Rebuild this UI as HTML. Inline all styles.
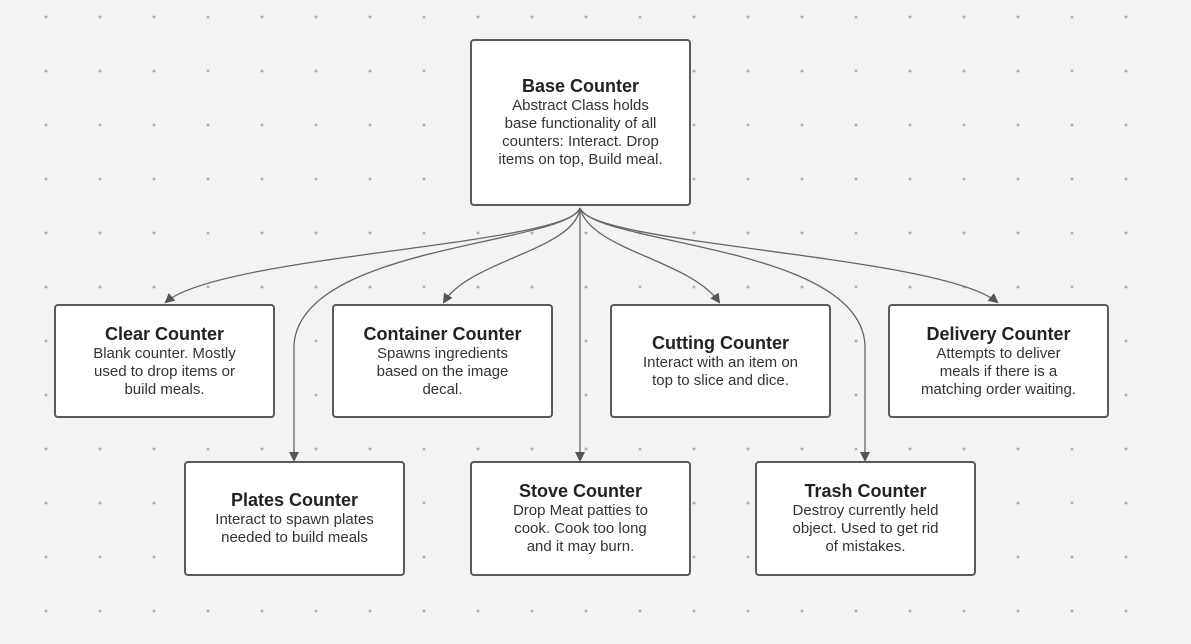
<!DOCTYPE html>
<html><head><meta charset="utf-8"><style>
body{margin:0;width:1191px;height:644px;background:#f2f3f5;position:relative;overflow:hidden;font-family:"Liberation Sans",Arial,sans-serif;}
svg{position:absolute;left:0;top:0}
.b{position:absolute;background:#fff;border:2px solid #5a5a5a;border-radius:4px;box-sizing:border-box;display:flex;flex-direction:column;justify-content:center;align-items:center;text-align:center;color:#333;font-size:15px;line-height:18px}
.b h{display:block;font-weight:bold;font-size:18px;color:#222;line-height:20px;margin-bottom:1px}
</style></head><body>
<svg width="1191" height="644">
<defs>
<pattern id="d" x="46" y="17" width="54" height="54" patternUnits="userSpaceOnUse"><circle cx="0" cy="0" r="1.5" fill="#b0b2b6"/><circle cx="54" cy="0" r="1.5" fill="#b0b2b6"/><circle cx="0" cy="54" r="1.5" fill="#b0b2b6"/><circle cx="54" cy="54" r="1.5" fill="#b0b2b6"/></pattern>
<marker id="a" markerWidth="10" markerHeight="10" refX="8" refY="5" orient="auto" markerUnits="userSpaceOnUse"><path d="M0,0 L10,5 L0,10 Z" fill="#555"/></marker>
</defs>
<rect x="40" y="10" width="1120" height="610" fill="url(#d)"/>
<g fill="none" stroke="#666" stroke-width="1.3" marker-end="url(#a)">
<path d="M580,208 C570,245 220,255 166,302"/>
<path d="M580,208 C565,245 300,245 294,345 L294,460"/>
<path d="M580,208 C575,250 470,260 444,302"/>
<path d="M580,208 L580,460"/>
<path d="M580,208 C590,250 690,260 719,302"/>
<path d="M580,208 C595,245 860,245 865,345 L865,460"/>
<path d="M580,208 C590,245 940,255 997,302"/>
</g>
</svg>
<div class="b" style="left:470px;top:39px;width:221px;height:167px"><h>Base Counter</h>Abstract Class holds<br>base functionality of all<br>counters: Interact. Drop<br>items on top, Build meal.</div>
<div class="b" style="left:54px;top:304px;width:221px;height:114px"><h>Clear Counter</h>Blank counter. Mostly<br>used to drop items or<br>build meals.</div>
<div class="b" style="left:332px;top:304px;width:221px;height:114px"><h>Container Counter</h>Spawns ingredients<br>based on the image<br>decal.</div>
<div class="b" style="left:610px;top:304px;width:221px;height:114px"><h>Cutting Counter</h>Interact with an item on<br>top to slice and dice.</div>
<div class="b" style="left:888px;top:304px;width:221px;height:114px"><h>Delivery Counter</h>Attempts to deliver<br>meals if there is a<br>matching order waiting.</div>
<div class="b" style="left:184px;top:461px;width:221px;height:115px"><h>Plates Counter</h>Interact to spawn plates<br>needed to build meals</div>
<div class="b" style="left:470px;top:461px;width:221px;height:115px"><h>Stove Counter</h>Drop Meat patties to<br>cook. Cook too long<br>and it may burn.</div>
<div class="b" style="left:755px;top:461px;width:221px;height:115px"><h>Trash Counter</h>Destroy currently held<br>object. Used to get rid<br>of mistakes.</div>
</body></html>
